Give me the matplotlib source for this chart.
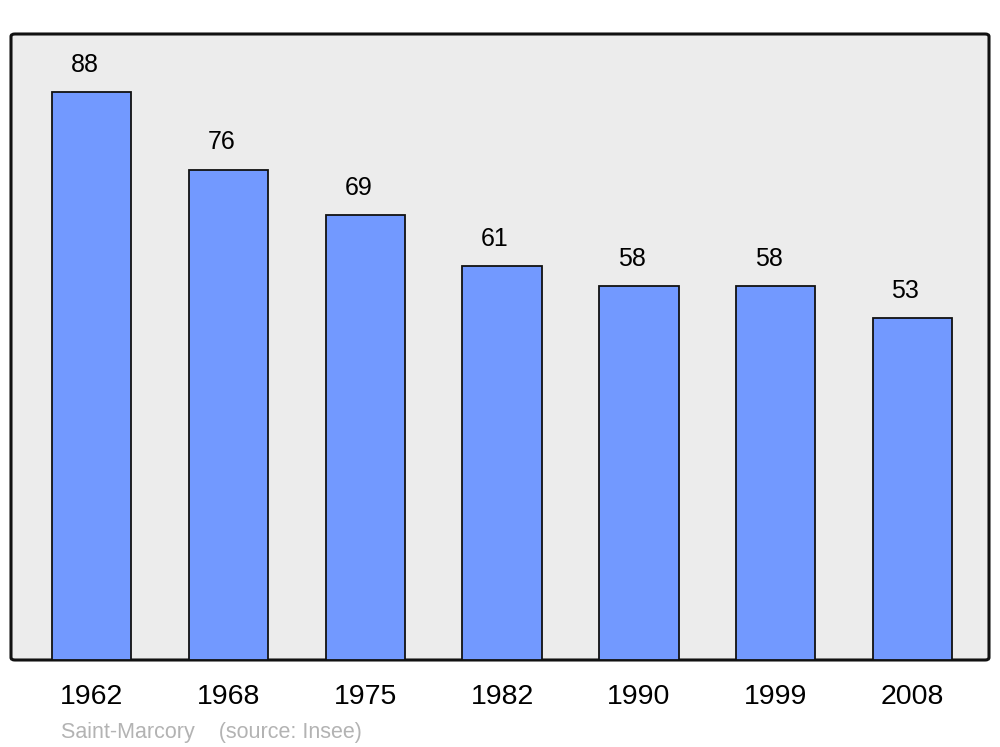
import matplotlib.pyplot as plt
from matplotlib.patches import FancyBboxPatch

plt.rcParams['font.family'] = ['Liberation Sans', 'DejaVu Sans']

annees = ['1962', '1968', '1975', '1982', '1990', '1999', '2008']
population = [88, 76, 69, 61, 58, 58, 53]

fig = plt.figure(figsize=(10, 7.47), dpi=100)
ax = fig.add_axes([0.011, 1 - 660 / 747, 0.978, 626 / 747])
ax.set_facecolor('none')

# cadre arrondi
cadre = FancyBboxPatch((0, 0), 1, 1, boxstyle='round,pad=0,rounding_size=0.004',
                       transform=ax.transAxes, facecolor='#ececec',
                       edgecolor='#111111', linewidth=2.2, zorder=0, clip_on=False)
ax.add_patch(cadre)

x = range(len(annees))
bars = ax.bar(x, population, width=0.58, color='#7299ff', edgecolor='#111111',
              linewidth=1.3, zorder=2)

for xi, v in zip(x, population):
    ax.annotate(str(v), (xi, v), xytext=(-5, 19.5), textcoords='offset points',
                ha='center', va='center', fontsize=18, color='black')

ax.set_xlim(-0.59, 6.56)
ax.set_ylim(0, 97)
ax.set_xticks(list(x))
ax.set_xticklabels(annees, fontsize=20.5)
ax.tick_params(axis='x', length=0, pad=17)
ax.set_yticks([])
for s in ax.spines.values():
    s.set_visible(False)

fig.text(0.061, 1 - 732.5 / 747, 'Saint-Marcory    (source: Insee)', fontsize=15.5,
         color='#b3b3b3', va='center', ha='left')

fig.savefig('out.png', dpi=100)
